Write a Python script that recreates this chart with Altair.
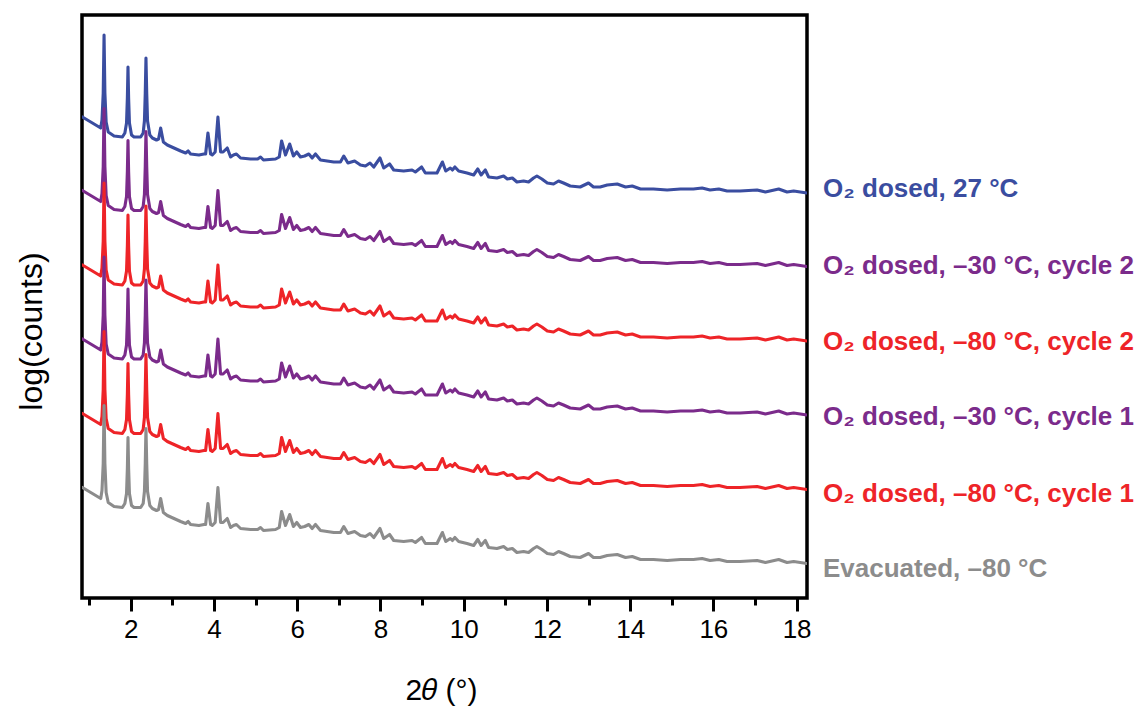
import altair as alt
import pandas as pd

# ---- data (shared diffraction profile, arb. log units) ----
two_theta = [
    0.84, 1.04, 1.20, 1.28, 1.31, 1.34, 1.36, 1.38, 1.41, 1.46, 1.60, 1.80,
    1.86, 1.90, 1.92, 1.935, 1.95, 1.97, 2.02, 2.08, 2.24,
    2.30, 2.33, 2.35, 2.367, 2.385, 2.405, 2.46, 2.52, 2.62,
    2.67, 2.72, 2.785, 2.88, 3.04, 3.20, 3.32, 3.38, 3.44, 3.64, 3.76,
    3.80, 3.856, 3.92, 3.96, 4.03, 4.096, 4.16, 4.22, 4.32, 4.40, 4.47, 4.54,
    4.64, 4.88, 5.05, 5.12, 5.19, 5.48, 5.57, 5.626, 5.72, 5.82, 5.91, 5.99,
    6.08, 6.18, 6.28, 6.36, 6.44, 6.56, 6.88, 7.04, 7.12, 7.22, 7.38, 7.52,
    7.64, 7.75, 7.84, 7.99, 8.08, 8.22, 8.32, 8.56, 8.76, 8.84, 8.99, 9.08,
    9.36, 9.49, 9.57, 9.68, 9.73, 9.79, 9.88, 10.08, 10.24, 10.34, 10.42,
    10.52, 10.60, 10.80, 10.96, 11.05, 11.17, 11.28, 11.44, 11.56, 11.68,
    11.76, 11.88, 12.01, 12.16, 12.28, 12.40, 12.56, 12.80, 13.00, 13.12,
    13.28, 13.45, 13.69, 13.89, 14.05, 14.25, 14.56, 14.89, 15.21, 15.52,
    15.73, 15.92, 16.13, 16.33, 16.64, 17.05, 17.25, 17.57, 17.77, 17.93, 18.25,
]
intensity = [
    481, 476, 472, 470, 478, 505, 563, 505, 476, 466, 462, 461,
    465, 475, 500, 531, 500, 475, 463, 461, 461,
    465, 477, 505, 540, 505, 477, 463, 460, 458,
    459, 470, 456, 453, 450, 447, 445, 447, 444, 443, 444,
    444, 465, 444, 443, 446, 481, 446, 446, 450, 441, 443, 444,
    440, 439, 439, 441, 438, 439, 441, 457, 443, 454, 442, 446,
    441, 442, 444, 440, 444, 438, 436, 436, 442, 435, 437, 433,
    432, 435, 431, 440, 430, 434, 428, 427, 428, 426, 431, 425,
    425, 436, 427, 430, 428, 431, 427, 425, 423, 429, 423,
    428, 421, 420, 422, 419, 420, 416, 417, 416, 420,
    422, 419, 415, 414, 417, 415, 412, 411, 415, 411,
    411, 413, 414, 411, 412, 409, 409, 408, 409, 409,
    410, 408, 409, 407, 407, 408, 406, 409, 406, 407, 405,
]

series_names = [
    "O\u2082 dosed, 27 \u00b0C",
    "O\u2082 dosed, \u201330 \u00b0C, cycle 2",
    "O\u2082 dosed, \u201380 \u00b0C, cycle 2",
    "O\u2082 dosed, \u201330 \u00b0C, cycle 1",
    "O\u2082 dosed, \u201380 \u00b0C, cycle 1",
    "Evacuated, \u201380 \u00b0C",
]
series_offset = [0, -73.5, -148, -222, -296.5, -370.5]   # vertical stacking offsets
series_colors = ["#3A4DA0", "#7B2B8B", "#EE2428", "#7B2B8B", "#EE2428", "#8C8C8C"]
label_level = [408.7, 332, 255.7, 180.7, 104, 28.7]

major_ticks = [2, 4, 6, 8, 10, 12, 14, 16, 18]
minor_ticks = [1, 3, 5, 7, 9, 11, 13, 15, 17]
x_domain = [0.83, 18.25]
y_domain = [0, 583]

# ---- tables ----
rows = []
for name, off in zip(series_names, series_offset):
    for t, v in zip(two_theta, intensity):
        rows.append({"series": name, "two_theta": t, "intensity": v, "offset": off})
curves = pd.DataFrame(rows)

labels = pd.DataFrame({
    "series": series_names,
    "two_theta": [two_theta[-1]] * len(series_names),
    "level": label_level,
})

FONT = "Liberation Sans"
color_scale = alt.Scale(domain=series_names, range=series_colors)

lines = alt.Chart(curves).transform_calculate(
    shifted="datum.intensity + datum.offset"
).mark_line(strokeWidth=3.1, strokeJoin="round", strokeCap="round", clip=True).encode(
    x=alt.X(
        "two_theta:Q",
        scale=alt.Scale(domain=x_domain, nice=False, zero=False),
        axis=alt.Axis(
            values=major_ticks, tickSize=13, tickWidth=3, tickColor="black",
            labelFontSize=26, labelFont=FONT, labelColor="black", labelPadding=5,
            domain=False, grid=False, format="d",
            title="2\U0001D703 (\u00b0)", titleFont=FONT, titleFontSize=30,
            titleFontWeight="normal", titleColor="black",
            titleBaseline="alphabetic", titleY=101, titleX=359, titleAlign="center",
            orient="bottom",
        ),
    ),
    y=alt.Y(
        "shifted:Q",
        scale=alt.Scale(domain=y_domain, nice=False, zero=False),
        axis=alt.Axis(
            ticks=False, labels=False, domain=False, grid=False,
            title="log(counts)", titleFont=FONT, titleFontSize=32,
            titleFontWeight="normal", titleColor="black",
            titleBaseline="alphabetic", titleX=-41, titleY=316, titleAlign="center",
            titleAngle=270, orient="left",
        ),
    ),
    color=alt.Color("series:N", scale=color_scale, legend=None),
    order=alt.Order("two_theta:Q"),
    detail="series:N",
)

texts = alt.Chart(labels).mark_text(
    align="left", baseline="middle", dx=16, fontSize=26, fontWeight="bold", font=FONT
).encode(
    x=alt.X(
        "two_theta:Q",
        scale=alt.Scale(domain=x_domain, nice=False, zero=False),
        axis=alt.Axis(
            values=minor_ticks, tickSize=7, tickWidth=3, tickColor="black",
            labels=False, domain=False, grid=False, title=None, orient="bottom",
        ),
    ),
    y=alt.Y("level:Q", scale=alt.Scale(domain=y_domain, nice=False, zero=False), axis=None),
    text="series:N",
    color=alt.Color("series:N", scale=color_scale, legend=None),
)

chart = alt.layer(lines, texts).resolve_scale(x="independent", y="independent").resolve_axis(
    x="independent", y="independent"
).properties(
    width=725,
    height=583,
    padding={"left": 82, "top": 15, "right": 331, "bottom": 115},
    autosize=alt.AutoSizeParams(type="none"),
    background="white",
).configure_view(stroke="black", strokeWidth=3.5)

chart.save("out.html", embed_options={"renderer": "svg", "actions": False})
